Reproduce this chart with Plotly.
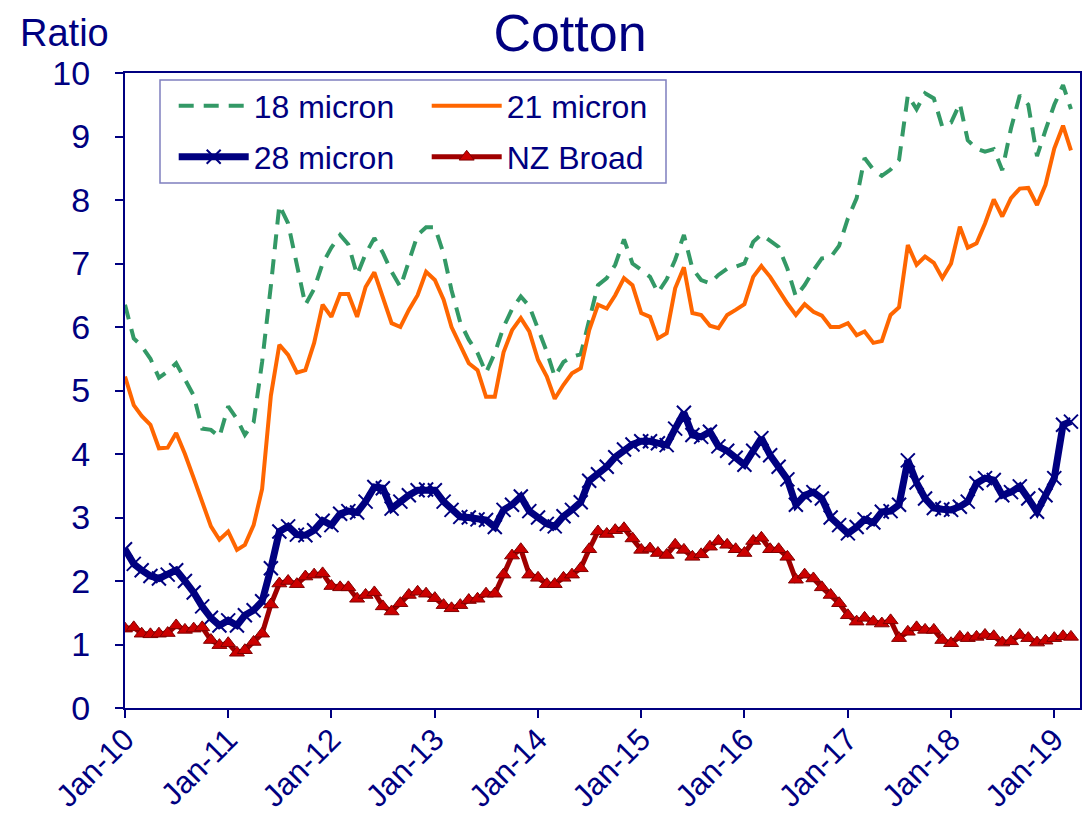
import plotly.graph_objects as go
import pandas as pd

# ---- data (monthly, Jan-2010 .. Mar-2019) ----
months = pd.date_range("2010-01-01", periods=111, freq="MS")

micron18 = [6.35, 5.82, 5.70, 5.50, 5.20, 5.30, 5.43, 5.17, 4.92, 4.40, 4.38, 4.27,
            4.75, 4.55, 4.30, 4.50, 5.45, 6.65, 7.92, 7.63, 6.95, 6.35, 6.60, 7.00,
            7.25, 7.45, 7.30, 6.82, 7.15, 7.40, 7.17, 6.87, 6.63, 7.03, 7.45, 7.57,
            7.57, 7.15, 6.58, 6.07, 5.80, 5.59, 5.28, 5.59, 6.00, 6.28, 6.48, 6.33,
            5.95, 5.61, 5.22, 5.45, 5.53, 5.57, 6.11, 6.66, 6.77, 6.98, 7.38, 7.00,
            6.90, 6.79, 6.54, 6.75, 7.06, 7.45, 6.92, 6.74, 6.69, 6.82, 6.92, 6.95,
            7.00, 7.34, 7.46, 7.36, 7.26, 6.92, 6.48, 6.66, 6.89, 7.08, 7.10, 7.28,
            7.71, 8.03, 8.66, 8.48, 8.38, 8.48, 8.63, 9.65, 9.43, 9.68, 9.60, 9.15,
            9.22, 9.52, 8.94, 8.81, 8.76, 8.80, 8.47, 9.13, 9.65, 9.50, 8.69, 9.10,
            9.50, 9.81, 9.43]

micron21 = [5.22, 4.77, 4.60, 4.46, 4.09, 4.10, 4.33, 4.00, 3.62, 3.25, 2.86, 2.65,
            2.78, 2.49, 2.57, 2.88, 3.45, 4.92, 5.72, 5.56, 5.28, 5.32, 5.75, 6.35,
            6.16, 6.52, 6.52, 6.16, 6.63, 6.86, 6.48, 6.06, 6.00, 6.27, 6.50, 6.87,
            6.74, 6.43, 6.00, 5.72, 5.43, 5.32, 4.90, 4.90, 5.60, 5.95, 6.14, 5.93,
            5.48, 5.22, 4.87, 5.09, 5.27, 5.35, 5.95, 6.35, 6.29, 6.50, 6.77, 6.66,
            6.22, 6.16, 5.82, 5.90, 6.61, 6.94, 6.22, 6.19, 6.02, 5.98, 6.19, 6.27,
            6.36, 6.79, 6.96, 6.79, 6.58, 6.37, 6.19, 6.36, 6.24, 6.18, 6.00, 6.00,
            6.06, 5.87, 5.93, 5.75, 5.78, 6.19, 6.31, 7.29, 6.98, 7.11, 7.01, 6.77,
            7.00, 7.58, 7.25, 7.32, 7.63, 8.01, 7.74, 8.03, 8.18, 8.19, 7.92, 8.24,
            8.81, 9.17, 8.78]

micron28 = [2.50, 2.27, 2.17, 2.08, 2.04, 2.10, 2.17, 2.00, 1.82, 1.60, 1.42, 1.30,
            1.38, 1.30, 1.46, 1.54, 1.68, 2.20, 2.78, 2.86, 2.73, 2.72, 2.80, 2.95,
            2.88, 3.06, 3.10, 3.08, 3.25, 3.48, 3.46, 3.14, 3.25, 3.35, 3.43, 3.44,
            3.43, 3.25, 3.12, 3.01, 3.00, 2.97, 2.96, 2.85, 3.12, 3.20, 3.33, 3.10,
            3.00, 2.90, 2.86, 3.02, 3.12, 3.24, 3.58, 3.68, 3.80, 3.95, 4.07, 4.15,
            4.20, 4.20, 4.17, 4.14, 4.40, 4.65, 4.30, 4.27, 4.35, 4.12, 4.05, 3.94,
            3.83, 4.05, 4.25, 3.98, 3.80, 3.60, 3.20, 3.35, 3.40, 3.30, 3.00, 2.88,
            2.75, 2.85, 2.97, 2.92, 3.09, 3.10, 3.20, 3.90, 3.55, 3.30, 3.15, 3.13,
            3.12, 3.17, 3.25, 3.54, 3.62, 3.59, 3.35, 3.40, 3.49, 3.30, 3.09, 3.35,
            3.62, 4.46, 4.51]

nz_broad = [1.25, 1.27, 1.17, 1.16, 1.17, 1.18, 1.30, 1.23, 1.25, 1.27, 1.07, 0.99,
            1.02, 0.87, 0.91, 1.04, 1.17, 1.63, 1.96, 2.00, 1.95, 2.07, 2.10, 2.12,
            1.92, 1.90, 1.90, 1.72, 1.78, 1.82, 1.60, 1.52, 1.65, 1.78, 1.83, 1.80,
            1.73, 1.62, 1.57, 1.62, 1.70, 1.72, 1.80, 1.80, 2.10, 2.40, 2.50, 2.10,
            2.05, 1.95, 1.95, 2.05, 2.10, 2.20, 2.50, 2.78, 2.74, 2.80, 2.83, 2.67,
            2.49, 2.51, 2.44, 2.41, 2.57, 2.49, 2.38, 2.42, 2.54, 2.63, 2.57, 2.50,
            2.44, 2.63, 2.68, 2.50, 2.50, 2.38, 2.02, 2.10, 2.04, 1.90, 1.78, 1.65,
            1.46, 1.36, 1.42, 1.36, 1.33, 1.38, 1.10, 1.20, 1.27, 1.23, 1.23, 1.07,
            1.02, 1.12, 1.10, 1.12, 1.15, 1.13, 1.03, 1.05, 1.15, 1.10, 1.03, 1.06,
            1.10, 1.13, 1.12]

tick_dates = pd.date_range("2010-01-01", "2019-01-01", freq="YS")
tick_labels = ["Jan-10", "Jan-11", "Jan-12", "Jan-13", "Jan-14",
               "Jan-15", "Jan-16", "Jan-17", "Jan-18", "Jan-19"]

NAVY = "#000080"
FONT = "Liberation Sans, Arial, sans-serif"

W, H = 1089, 816

fig = go.Figure()
fig.add_trace(go.Scatter(x=months, y=micron18, mode="lines", name="18 micron",
                         line=dict(color="#339966", width=4, dash="15px,10px"),
                         legend="legend"))
fig.add_trace(go.Scatter(x=months, y=micron21, mode="lines", name="21 micron",
                         line=dict(color="#FF6600", width=4),
                         legend="legend"))
fig.add_trace(go.Scatter(x=months, y=micron28, mode="lines+markers", name="28 micron",
                         line=dict(color=NAVY, width=7),
                         marker=dict(symbol="x-thin", size=14, color=NAVY,
                                     line=dict(color=NAVY, width=2)),
                         legend="legend2"))
fig.add_trace(go.Scatter(x=months, y=nz_broad, mode="lines+markers", name="NZ Broad",
                         line=dict(color="#A00000", width=5),
                         marker=dict(symbol="triangle-up", size=13, color="#CC0000",
                                     line=dict(color="#800000", width=1)),
                         legend="legend2"))

legend_common = dict(orientation="h", xanchor="left", yanchor="middle",
                     bgcolor="rgba(255,255,255,0)", borderwidth=0,
                     font=dict(family=FONT, size=32, color=NAVY),
                     itemwidth=70, entrywidth=168, entrywidthmode="pixels",
                     itemclick=False)

fig.update_layout(
    width=W, height=H,
    margin=dict(l=125, r=9, t=73, b=H - 708, autoexpand=False),
    paper_bgcolor="white", plot_bgcolor="white",
    font=dict(family=FONT, color=NAVY),
    title=dict(text="Cotton", x=570 / W, xanchor="center", xref="container",
               y=1 - 33 / H, yanchor="middle", yref="container",
               font=dict(family=FONT, size=52, color=NAVY)),
    legend=dict(x=0.051, y=(708 - 106) / 635, **legend_common),
    legend2=dict(x=0.051, y=(708 - 157) / 635, **legend_common),
    showlegend=True,
    xaxis=dict(type="date", range=["2010-01-01", "2019-04-02"],
               tickvals=tick_dates, ticktext=tick_labels, tickangle=-45,
               ticks="outside", ticklen=8, tickwidth=2, tickcolor=NAVY,
               showline=True, linecolor=NAVY, linewidth=2, mirror=True,
               showgrid=False, zeroline=False, automargin=False,
               ticklabelstandoff=-9,
               tickfont=dict(family=FONT, size=31, color=NAVY)),
    yaxis=dict(range=[0, 10], dtick=1, tick0=0,
               ticks="outside", ticklen=8, tickwidth=2, tickcolor=NAVY,
               showline=True, linecolor=NAVY, linewidth=2, mirror=True,
               showgrid=False, zeroline=False, automargin=False,
               ticklabelstandoff=18,
               tickfont=dict(family=FONT, size=34, color=NAVY)),
    annotations=[dict(text="Ratio", xref="paper", yref="paper",
                      x=(18 - 125) / 955, y=(708 - 33) / 635,
                      xanchor="left", yanchor="middle", showarrow=False,
                      font=dict(family=FONT, size=38, color=NAVY))],
    shapes=[dict(type="rect", xref="paper", yref="paper",
                 x0=(160 - 125) / 955, x1=(666 - 125) / 955,
                 y0=(708 - 183) / 635, y1=(708 - 80) / 635,
                 line=dict(color="#7F7FBF", width=1.5), fillcolor="rgba(0,0,0,0)",
                 layer="above")],
)

# remove the browser's default 8px page margin so the figure fills the window
fig.write_html("out.html",
               config={"displayModeBar": False},
               post_script="document.body.style.margin='0';"
                           "document.body.style.overflow='hidden';")
